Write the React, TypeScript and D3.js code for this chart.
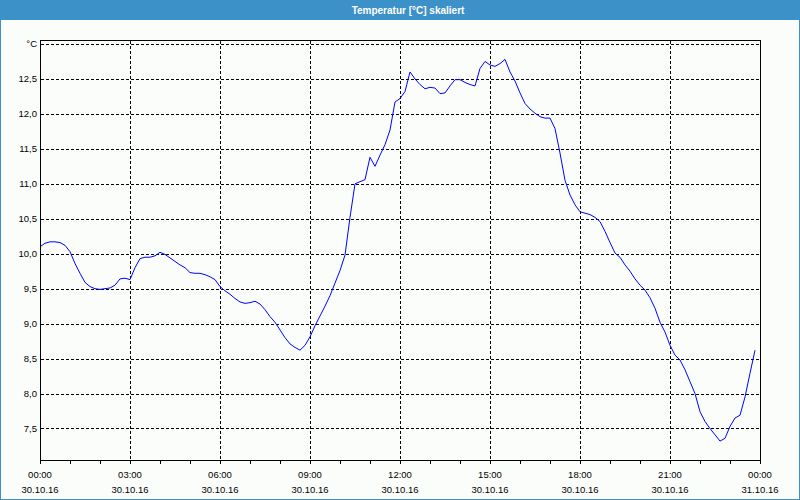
import React from "react";
import * as d3 from "d3";

// Time of day in minutes after 30.10.16 00:00
const minutes: number[] = [
  0, 10, 20, 30, 40, 50, 60, 70, 80, 90, 100, 110,
  120, 130, 140, 150, 160, 170, 180, 190, 200, 210, 220, 230,
  240, 250, 260, 270, 280, 290, 300, 310, 320, 330, 340, 350,
  360, 370, 380, 390, 400, 410, 420, 430, 440, 450, 460, 470,
  480, 490, 500, 510, 520, 530, 540, 550, 560, 570, 580, 590,
  600, 610, 620, 630, 640, 650, 660, 670, 680, 690, 700, 710,
  720, 730, 740, 750, 760, 770, 780, 790, 800, 810, 820, 830,
  840, 850, 860, 870, 880, 890, 900, 910, 920, 930, 940, 950,
  960, 970, 980, 990, 1000, 1010, 1020, 1030, 1040, 1050, 1060, 1070,
  1080, 1090, 1100, 1110, 1120, 1130, 1140, 1150, 1160, 1170, 1180, 1190,
  1200, 1210, 1220, 1230, 1240, 1250, 1260, 1270, 1280, 1290, 1300, 1310,
  1320, 1330, 1340, 1350, 1360, 1370, 1380, 1390, 1400, 1410, 1420, 1430,
];

// Temperature in °C
const temperature: number[] = [
  10.10, 10.15, 10.17, 10.17, 10.16, 10.12, 10.03, 9.86, 9.72, 9.59, 9.53, 9.50,
  9.49, 9.50, 9.51, 9.55, 9.64, 9.65, 9.63, 9.80, 9.93, 9.95, 9.95, 9.97,
  10.02, 9.99, 9.94, 9.89, 9.84, 9.80, 9.73, 9.72, 9.72, 9.70, 9.67, 9.63,
  9.53, 9.47, 9.42, 9.36, 9.31, 9.29, 9.30, 9.32, 9.28, 9.20, 9.10, 9.02,
  8.91, 8.80, 8.71, 8.66, 8.62, 8.69, 8.81, 8.97, 9.11, 9.25, 9.40, 9.58,
  9.76, 9.98, 10.52, 11.00, 11.03, 11.06, 11.38, 11.25, 11.41, 11.56, 11.77, 12.17,
  12.22, 12.32, 12.60, 12.50, 12.42, 12.36, 12.38, 12.37, 12.29, 12.30, 12.40, 12.49,
  12.49, 12.45, 12.42, 12.40, 12.65, 12.75, 12.70, 12.68, 12.72, 12.78, 12.60, 12.47,
  12.30, 12.15, 12.07, 12.01, 11.96, 11.94, 11.94, 11.79, 11.44, 11.05, 10.84, 10.70,
  10.60, 10.58, 10.56, 10.52, 10.46, 10.32, 10.16, 10.01, 9.95, 9.84, 9.75, 9.64,
  9.55, 9.48, 9.37, 9.22, 9.02, 8.88, 8.69, 8.55, 8.48, 8.34, 8.17, 8.00,
  7.74, 7.60, 7.50, 7.41, 7.32, 7.36, 7.53, 7.65, 7.69, 7.95, 8.29, 8.62,
];

const yTicks: number[] = [7.5, 8.0, 8.5, 9.0, 9.5, 10.0, 10.5, 11.0, 11.5, 12.0, 12.5, 13.0];
const yTickLabels: string[] = ["7,5", "8,0", "8,5", "9,0", "9,5", "10,0", "10,5", "11,0", "11,5", "12,0", "12,5", "°C"];

const xMajorHours: number[] = [0, 3, 6, 9, 12, 15, 18, 21, 24];
const xTimeLabels: string[] = ["00:00", "03:00", "06:00", "09:00", "12:00", "15:00", "18:00", "21:00", "00:00"];
const xDateLabels: string[] = ["30.10.16", "30.10.16", "30.10.16", "30.10.16", "30.10.16", "30.10.16", "30.10.16", "30.10.16", "31.10.16"];
const xMinorHours: number[] = [
  0, 1, 2, 3, 4, 5, 6, 7, 8, 9, 10, 11, 12, 13, 14, 15, 16, 17, 18, 19, 20, 21, 22, 23, 24,
];

const title = "Temperatur [°C] skaliert";

const W = 800;
const H = 500;
const plot = { left: 40, right: 760, top: 40, bottom: 460 };
const blue = "#3c91c8";
const bg = "#fbfdfb";
const font = "'Liberation Sans', Arial, sans-serif";

export default function App() {
  const x = d3.scaleLinear().domain([0, 24 * 60]).range([plot.left, plot.right]);
  const y = d3.scaleLinear().domain([7.0494, 13.0572]).range([plot.bottom, plot.top]);
  const crisp = (v: number) => Math.round(v) + 0.5;

  const data = minutes.map((m, i) => ({ m, t: temperature[i] }));
  const line = d3
    .line<{ m: number; t: number }>()
    .x((d) => x(d.m))
    .y((d) => y(d.t));

  return (
    <svg
      width={W}
      height={H}
      style={{ position: "absolute", left: 0, top: 0, display: "block" }}
      fontFamily={font}
    >
      <rect x={0} y={0} width={W} height={H} fill={bg} />
      <rect x={0} y={0} width={W} height={20} fill={blue} />
      <rect x={0.5} y={0.5} width={W - 1} height={H - 1} fill="none" stroke={blue} />
      <text x={W / 2 + 8} y={14} textAnchor="middle" fill="#ffffff" fontSize={10} fontWeight="bold">
        {title}
      </text>

      <defs>
        <clipPath id="plotclip">
          <rect x={plot.left + 1} y={plot.top + 1} width={plot.right - plot.left - 1} height={plot.bottom - plot.top - 1} />
        </clipPath>
      </defs>

      {/* horizontal grid */}
      {yTicks.map((v) => (
        <line
          key={"hg" + v}
          x1={plot.left + 1}
          x2={plot.right}
          y1={crisp(y(v))}
          y2={crisp(y(v))}
          stroke="#000"
          strokeDasharray="3,2"
          shapeRendering="crispEdges"
        />
      ))}
      {/* vertical grid */}
      {xMajorHours.slice(1, -1).map((h) => (
        <line
          key={"vg" + h}
          x1={crisp(x(h * 60))}
          x2={crisp(x(h * 60))}
          y1={plot.top + 1}
          y2={plot.bottom}
          stroke="#000"
          strokeDasharray="3,2"
          shapeRendering="crispEdges"
        />
      ))}

      {/* data line */}
      <path d={line(data) || ""} fill="none" stroke="#0000ff" strokeWidth={1} clipPath="url(#plotclip)" />

      {/* frame */}
      <rect
        x={plot.left + 0.5}
        y={plot.top + 0.5}
        width={plot.right - plot.left}
        height={plot.bottom - plot.top}
        fill="none"
        stroke="#000"
        shapeRendering="crispEdges"
      />

      {/* x ticks */}
      {xMinorHours.map((h) => (
        <line
          key={"xt" + h}
          x1={crisp(x(h * 60))}
          x2={crisp(x(h * 60))}
          y1={plot.bottom}
          y2={plot.bottom + 4}
          stroke="#000"
          shapeRendering="crispEdges"
        />
      ))}

      {/* y labels */}
      {yTicks.map((v, i) => (
        <text
          key={"yl" + v}
          x={37}
          y={y(v)}
          dy="0.35em"
          textAnchor="end"
          fontSize={9.5}
          fill="#000"
        >
          {yTickLabels[i]}
        </text>
      ))}

      {/* x labels */}
      {xMajorHours.map((h, i) => (
        <g key={"xl" + h}>
          <text x={x(h * 60)} y={477.5} textAnchor="middle" fontSize={9.5} fill="#000">
            {xTimeLabels[i]}
          </text>
          <text x={x(h * 60)} y={492.5} textAnchor="middle" fontSize={9.5} fill="#000">
            {xDateLabels[i]}
          </text>
        </g>
      ))}
    </svg>
  );
}
